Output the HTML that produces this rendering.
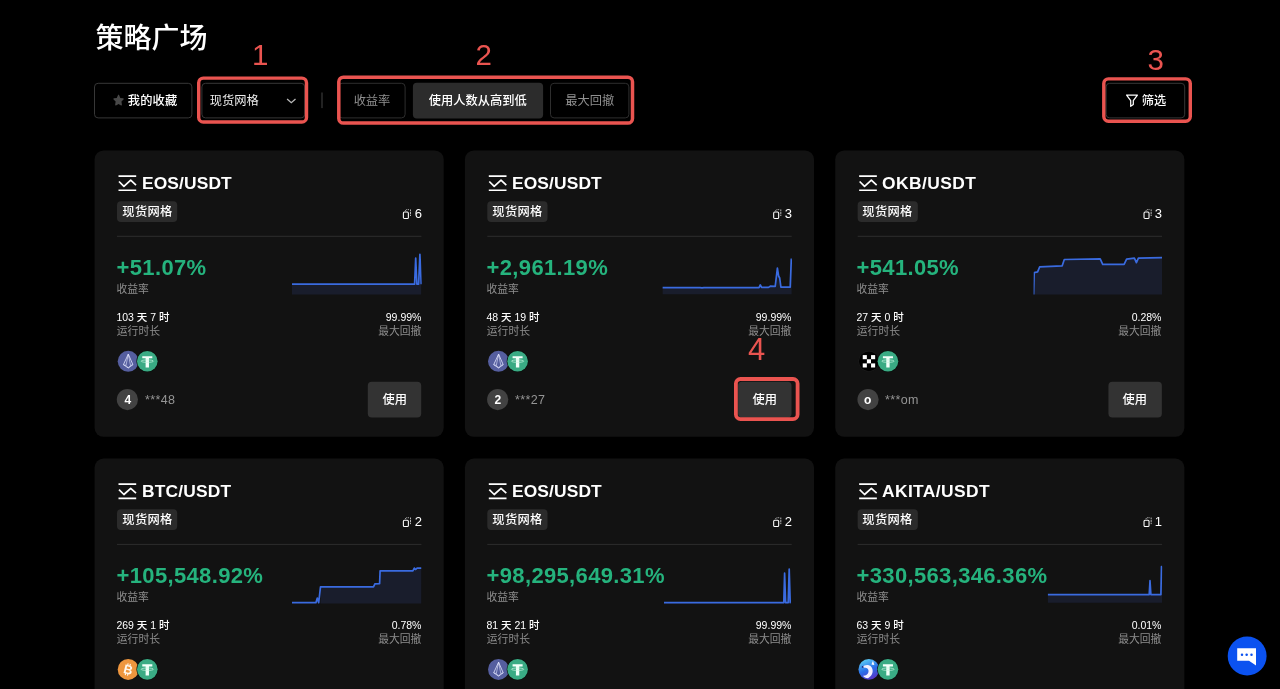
<!DOCTYPE html>
<html lang="zh-CN">
<head>
<meta charset="utf-8">
<title>策略广场</title>
<style>
*{box-sizing:border-box;margin:0;padding:0}
html,body{width:1280px;height:689px;overflow:hidden;background:#000}
body{position:relative;font-family:"Liberation Sans","Noto Sans CJK SC",sans-serif;color:#fff;-webkit-font-smoothing:antialiased}
.abs{position:absolute}
#app{position:absolute;left:0;top:0;width:1280px;height:689px;overflow:hidden;will-change:transform}
h1{position:absolute;left:95.5px;top:18.5px;font-size:28px;line-height:40px;font-weight:500;letter-spacing:0;color:#fff}
.btn{position:absolute;top:83px;height:35px;border:1px solid transparent;font-size:12.25px;line-height:33px;padding-top:1px;font-weight:500;color:#fff;text-align:center;white-space:nowrap}
.btn.gray{color:#8f8f8f;font-weight:400}
.btn.act{}
.sep{display:none}
.card{position:absolute;width:349.1px;height:286.4px}
.card>*{position:absolute}
.art{position:absolute;left:0;top:0;pointer-events:none}
.gi{left:23.8px;top:24.7px;width:18px;height:16.4px}
.pair{left:47.0px;top:22.05px;font-size:17.4px;line-height:22px;font-weight:700;white-space:nowrap}
.tag{left:22.3px;top:51.25px;width:60.3px;height:20.8px;font-size:12.25px;line-height:20.8px;padding-top:1.2px;letter-spacing:0.3px;font-weight:500;text-align:center;white-space:nowrap}
.copies{right:22.1px;top:55.55px;height:16px;font-size:13px;line-height:16px;font-weight:400}
.ci{width:9px;height:10.4px;margin-right:3.6px;position:relative;top:0.3px}
.hr{left:22.3px;top:85.95px;width:304.4px;height:1px;display:none}
.pct{left:21.6px;top:104.55px;font-size:22px;line-height:26px;letter-spacing:0.34px;font-weight:700;color:#25b37d;white-space:nowrap}
.lbl{font-size:10.8px;line-height:14px;color:#8d8d8d;white-space:nowrap}
.val{font-size:10.5px;line-height:14px;color:#fff;font-weight:500;white-space:nowrap}
.l1{left:21.4px;top:131.85px}
.v1{left:21.4px;top:160.05px}
.l2{left:21.8px;top:174.45px}
.v2{right:22.7px;top:160.05px}
.l3{right:22.7px;top:174.45px}
.coin.c1{left:22.7px;top:200.4px;width:21px;height:21px}
.coin.c2{left:41.3px;top:199.5px;width:22.8px;height:22.8px}
.av{left:22.2px;top:238.85px;width:21.2px;height:21.2px;font-size:12px;line-height:21.2px;padding-top:0.8px;font-weight:700;text-align:center}
.nm{left:50.0px;top:241.65px;font-size:12.5px;line-height:16px;letter-spacing:0.35px;color:#959595;white-space:nowrap}
.use{left:273.1px;top:231.85px;width:53.4px;height:35.6px;font-size:12.25px;line-height:35.6px;padding-top:1.2px;font-weight:500;text-align:center}
.rbox{position:absolute;border:3.4px solid #ea5450;border-radius:6px}
.rnum{position:absolute;color:#ea5450;font-size:29.5px;line-height:30px;font-weight:400;font-family:"Liberation Sans",sans-serif}
.chat{position:absolute;left:1227.7px;top:636.5px;width:39px;height:39px}
</style>
</head>
<body>
<div id="app">
<svg class="art" width="1280" height="689" viewBox="0 0 1280 689">
<rect x="94.6" y="150.4" width="349.1" height="286.4" rx="9" fill="#121212"/><rect x="117.0" y="201.25" width="60.2" height="20.75" rx="4" fill="#2b2b2b"/><rect x="117.0" y="235.8" width="304.4" height="1" fill="#2d2d2d"/><circle cx="127.4" cy="399.6" r="10.6" fill="#424242"/><rect x="367.8" y="381.8" width="53.4" height="35.6" rx="4" fill="#333"/>
<rect x="464.9" y="150.4" width="349.1" height="286.4" rx="9" fill="#121212"/><rect x="487.3" y="201.25" width="60.2" height="20.75" rx="4" fill="#2b2b2b"/><rect x="487.3" y="235.8" width="304.4" height="1" fill="#2d2d2d"/><circle cx="497.7" cy="399.6" r="10.6" fill="#424242"/><rect x="738.1" y="381.8" width="53.4" height="35.6" rx="4" fill="#333"/>
<rect x="835.25" y="150.4" width="349.1" height="286.4" rx="9" fill="#121212"/><rect x="857.65" y="201.25" width="60.2" height="20.75" rx="4" fill="#2b2b2b"/><rect x="857.65" y="235.8" width="304.4" height="1" fill="#2d2d2d"/><circle cx="868.05" cy="399.6" r="10.6" fill="#424242"/><rect x="1108.45" y="381.8" width="53.4" height="35.6" rx="4" fill="#333"/>
<rect x="94.6" y="458.5" width="349.1" height="286.4" rx="9" fill="#121212"/><rect x="117.0" y="509.35" width="60.2" height="20.75" rx="4" fill="#2b2b2b"/><rect x="117.0" y="543.9" width="304.4" height="1" fill="#2d2d2d"/><circle cx="127.4" cy="707.7" r="10.6" fill="#424242"/><rect x="367.8" y="689.9" width="53.4" height="35.6" rx="4" fill="#333"/>
<rect x="464.9" y="458.5" width="349.1" height="286.4" rx="9" fill="#121212"/><rect x="487.3" y="509.35" width="60.2" height="20.75" rx="4" fill="#2b2b2b"/><rect x="487.3" y="543.9" width="304.4" height="1" fill="#2d2d2d"/><circle cx="497.7" cy="707.7" r="10.6" fill="#424242"/><rect x="738.1" y="689.9" width="53.4" height="35.6" rx="4" fill="#333"/>
<rect x="835.25" y="458.5" width="349.1" height="286.4" rx="9" fill="#121212"/><rect x="857.65" y="509.35" width="60.2" height="20.75" rx="4" fill="#2b2b2b"/><rect x="857.65" y="543.9" width="304.4" height="1" fill="#2d2d2d"/><circle cx="868.05" cy="707.7" r="10.6" fill="#424242"/><rect x="1108.45" y="689.9" width="53.4" height="35.6" rx="4" fill="#333"/>
<rect x="94.5" y="83.3" width="97.4" height="34.6" rx="3.6" fill="none" stroke="#373737" stroke-width="1"/><rect x="201.9" y="83.3" width="102.8" height="34.6" rx="3.6" fill="none" stroke="#373737" stroke-width="1"/><rect x="338.5" y="83.3" width="66.6" height="34.6" rx="3.6" fill="none" stroke="#2e2e2e" stroke-width="1"/><rect x="412.9" y="82.8" width="130.2" height="35.6" rx="4" fill="#2c2c2c"/><rect x="550.5" y="83.3" width="78.4" height="34.6" rx="3.6" fill="none" stroke="#2e2e2e" stroke-width="1"/><rect x="1106.1" y="83.3" width="78.6" height="34.6" rx="3.6" fill="none" stroke="#373737" stroke-width="1"/><rect x="321.5" y="92.5" width="1" height="15.6" fill="#454545"/></svg>
<h1>策略广场</h1>
<div class="btn" style="left:94px;width:98.5px;text-align:left;padding-left:32.8px;letter-spacing:0.15px">我的收藏</div>
<div class="btn" style="left:201.4px;width:103.8px;text-align:left;padding-left:7.3px;font-weight:400;color:#ececec">现货网格</div>
<div class="sep"></div>
<div class="btn gray" style="left:338px;width:68px">收益率</div>
<div class="btn act" style="left:413px;width:129.5px">使用人数从高到低</div>
<div class="btn gray" style="left:550px;width:79.5px">最大回撤</div>
<div class="btn" style="left:1105.5px;width:79.7px;text-align:left;padding-left:35.3px">筛选</div>
<div class="card" style="left:95px;top:150px">
<div class="pair" style="letter-spacing:0.12px">EOS/USDT</div>
<div class="tag">现货网格</div>
<div class="copies">6</div>
<div class="hr"></div>
<div class="pct p1">+51.07%</div>
<div class="lbl l1">收益率</div>
<div class="val v1">103 天 7 时</div>
<div class="lbl l2">运行时长</div>
<div class="val v2">99.99%</div>
<div class="lbl l3">最大回撤</div>
<div class="av">4</div><div class="nm">***48</div>
<div class="use">使用</div>
</div>
<div class="card" style="left:465px;top:150px">
<div class="pair" style="letter-spacing:0.12px">EOS/USDT</div>
<div class="tag">现货网格</div>
<div class="copies">3</div>
<div class="hr"></div>
<div class="pct p2">+2,961.19%</div>
<div class="lbl l1">收益率</div>
<div class="val v1">48 天 19 时</div>
<div class="lbl l2">运行时长</div>
<div class="val v2">99.99%</div>
<div class="lbl l3">最大回撤</div>
<div class="av">2</div><div class="nm">***27</div>
<div class="use">使用</div>
</div>
<div class="card" style="left:835px;top:150px">
<div class="pair" style="letter-spacing:0.44px">OKB/USDT</div>
<div class="tag">现货网格</div>
<div class="copies">3</div>
<div class="hr"></div>
<div class="pct p3">+541.05%</div>
<div class="lbl l1">收益率</div>
<div class="val v1">27 天 0 时</div>
<div class="lbl l2">运行时长</div>
<div class="val v2">0.28%</div>
<div class="lbl l3">最大回撤</div>
<div class="av">o</div><div class="nm">***om</div>
<div class="use">使用</div>
</div>
<div class="card" style="left:95px;top:458px">
<div class="pair" style="letter-spacing:0.16px">BTC/USDT</div>
<div class="tag">现货网格</div>
<div class="copies">2</div>
<div class="hr"></div>
<div class="pct p4">+105,548.92%</div>
<div class="lbl l1">收益率</div>
<div class="val v1">269 天 1 时</div>
<div class="lbl l2">运行时长</div>
<div class="val v2">0.78%</div>
<div class="lbl l3">最大回撤</div>
<div class="av">7</div><div class="nm">***61</div>
<div class="use">使用</div>
</div>
<div class="card" style="left:465px;top:458px">
<div class="pair" style="letter-spacing:0.12px">EOS/USDT</div>
<div class="tag">现货网格</div>
<div class="copies">2</div>
<div class="hr"></div>
<div class="pct p5">+98,295,649.31%</div>
<div class="lbl l1">收益率</div>
<div class="val v1">81 天 21 时</div>
<div class="lbl l2">运行时长</div>
<div class="val v2">99.99%</div>
<div class="lbl l3">最大回撤</div>
<div class="av">3</div><div class="nm">***15</div>
<div class="use">使用</div>
</div>
<div class="card" style="left:835px;top:458px">
<div class="pair" style="letter-spacing:0.39px">AKITA/USDT</div>
<div class="tag">现货网格</div>
<div class="copies">1</div>
<div class="hr"></div>
<div class="pct p6">+330,563,346.36%</div>
<div class="lbl l1">收益率</div>
<div class="val v1">63 天 9 时</div>
<div class="lbl l2">运行时长</div>
<div class="val v2">0.01%</div>
<div class="lbl l3">最大回撤</div>
<div class="av">a</div><div class="nm">***ke</div>
<div class="use">使用</div>
</div>
<svg class="art" width="1280" height="689" viewBox="0 0 1280 689">
<clipPath id="cc1"><rect x="292" y="0" width="129.7" height="689"/></clipPath><g clip-path="url(#cc1)"><path d="M292,284.2 L414.6,284.2 L415.7,258 L416.9,284.2 L418.6,284.2 L419.9,254.4 L421.2,284.2 L421.2,294.6 L292,294.6 Z" fill="#191d2c"/><path d="M292,284.2 L414.6,284.2 L415.7,258 L416.9,284.2 L418.6,284.2 L419.9,254.4 L421.2,284.2" fill="none" stroke="#3a6be0" stroke-width="1.7" stroke-linejoin="round" stroke-linecap="butt"/></g>
<g transform="translate(118.4 175.1)"><path d="M0.1 1H17.8 M0.1 15.15H17.8" stroke="#fff" stroke-width="1.7" fill="none"/><path d="M0.6 6.4 L5.5 11.3 L12.3 5.1 L17.6 10" stroke="#fff" stroke-width="1.7" fill="none" stroke-linejoin="round"/></g>
<g transform="translate(402.8 209.15) scale(0.97)"><rect x="0.6" y="3" width="5.15" height="6.6" rx="1.1" fill="none" stroke="#fff" stroke-width="1.1"/><path d="M2.6 1.7L3.1 0.8 M3.6 0.5H4.5 M5.2 0.5H6.3 M7.95 0.3V1.9 M7.95 2.6V5.2 M7.95 5.8V7.1" fill="none" stroke="#dcdcdc" stroke-width="0.85"/></g>
<g transform="translate(117.7 350.8)"><circle cx="10.5" cy="10.5" r="10.5" fill="#555e9f"/><path d="M10.6 3.3 L5.7 13.9 L10.6 17.2 L15.2 13.9 Z" fill="none" stroke="#e4e7ff" stroke-width="0.8" stroke-linejoin="round"/><path d="M10.6 3.3 L8.3 14.6 L10.6 17.2 L12.8 14.6 Z M5.7 13.9 L8.3 14.6 M15.2 13.9 L12.8 14.6" fill="none" stroke="#e4e7ff" stroke-width="0.6" stroke-linejoin="round"/></g>
<g transform="translate(136.45 350.4) scale(0.986)"><circle cx="11" cy="11" r="11" fill="#08100c"/><circle cx="11" cy="11" r="10.45" fill="#3aab84"/><path d="M5.9 5.9h10.2v2.1h-3.4v9.3h-3.4v-9.3h-3.4z" fill="#f2fff9"/><ellipse cx="11" cy="10.9" rx="6.3" ry="1.25" fill="none" stroke="#c9f5e2" stroke-width="0.7"/></g>
<clipPath id="cc2"><rect x="662.4" y="0" width="129.7" height="689"/></clipPath><g clip-path="url(#cc2)"><path d="M662.4,287.6 L700,287.6 L702,287.9 L704,287.6 L759,287.6 L760.3,284.9 L761.6,287.4 L768.5,287.4 L770.3,286.2 L775.2,286.4 L777.4,268.1 L778.6,276 L779.7,278 L780.9,287.2 L790.2,287.2 L791.3,259.1 L791.6,259.1 L791.6,294.3 L662.4,294.3 Z" fill="#191d2c"/><path d="M662.4,287.6 L700,287.6 L702,287.9 L704,287.6 L759,287.6 L760.3,284.9 L761.6,287.4 L768.5,287.4 L770.3,286.2 L775.2,286.4 L777.4,268.1 L778.6,276 L779.7,278 L780.9,287.2 L790.2,287.2 L791.3,259.1 L791.6,259.1" fill="none" stroke="#3a6be0" stroke-width="1.7" stroke-linejoin="round" stroke-linecap="butt"/></g>
<g transform="translate(488.7 175.1)"><path d="M0.1 1H17.8 M0.1 15.15H17.8" stroke="#fff" stroke-width="1.7" fill="none"/><path d="M0.6 6.4 L5.5 11.3 L12.3 5.1 L17.6 10" stroke="#fff" stroke-width="1.7" fill="none" stroke-linejoin="round"/></g>
<g transform="translate(773.1 209.15) scale(0.97)"><rect x="0.6" y="3" width="5.15" height="6.6" rx="1.1" fill="none" stroke="#fff" stroke-width="1.1"/><path d="M2.6 1.7L3.1 0.8 M3.6 0.5H4.5 M5.2 0.5H6.3 M7.95 0.3V1.9 M7.95 2.6V5.2 M7.95 5.8V7.1" fill="none" stroke="#dcdcdc" stroke-width="0.85"/></g>
<g transform="translate(488.0 350.8)"><circle cx="10.5" cy="10.5" r="10.5" fill="#555e9f"/><path d="M10.6 3.3 L5.7 13.9 L10.6 17.2 L15.2 13.9 Z" fill="none" stroke="#e4e7ff" stroke-width="0.8" stroke-linejoin="round"/><path d="M10.6 3.3 L8.3 14.6 L10.6 17.2 L12.8 14.6 Z M5.7 13.9 L8.3 14.6 M15.2 13.9 L12.8 14.6" fill="none" stroke="#e4e7ff" stroke-width="0.6" stroke-linejoin="round"/></g>
<g transform="translate(506.75 350.4) scale(0.986)"><circle cx="11" cy="11" r="11" fill="#08100c"/><circle cx="11" cy="11" r="10.45" fill="#3aab84"/><path d="M5.9 5.9h10.2v2.1h-3.4v9.3h-3.4v-9.3h-3.4z" fill="#f2fff9"/><ellipse cx="11" cy="10.9" rx="6.3" ry="1.25" fill="none" stroke="#c9f5e2" stroke-width="0.7"/></g>
<clipPath id="cc3"><rect x="1033.6" y="0" width="128.9" height="689"/></clipPath><g clip-path="url(#cc3)"><path d="M1033.6,294.6 L1034.2,272.6 L1037.6,271.8 L1039.7,266.8 L1062.2,265.8 L1064.3,259.5 L1100.2,258.8 L1102.7,264.3 L1124.1,264.3 L1126.6,259.1 L1134.4,258.1 L1136.4,262.6 L1138.4,258.1 L1162,257.7 L1162,294.6 L1033.6,294.6 Z" fill="#191d2c"/><path d="M1033.6,294.6 L1034.2,272.6 L1037.6,271.8 L1039.7,266.8 L1062.2,265.8 L1064.3,259.5 L1100.2,258.8 L1102.7,264.3 L1124.1,264.3 L1126.6,259.1 L1134.4,258.1 L1136.4,262.6 L1138.4,258.1 L1162,257.7" fill="none" stroke="#3a6be0" stroke-width="1.7" stroke-linejoin="round" stroke-linecap="butt"/></g>
<g transform="translate(859.05 175.1)"><path d="M0.1 1H17.8 M0.1 15.15H17.8" stroke="#fff" stroke-width="1.7" fill="none"/><path d="M0.6 6.4 L5.5 11.3 L12.3 5.1 L17.6 10" stroke="#fff" stroke-width="1.7" fill="none" stroke-linejoin="round"/></g>
<g transform="translate(1143.45 209.15) scale(0.97)"><rect x="0.6" y="3" width="5.15" height="6.6" rx="1.1" fill="none" stroke="#fff" stroke-width="1.1"/><path d="M2.6 1.7L3.1 0.8 M3.6 0.5H4.5 M5.2 0.5H6.3 M7.95 0.3V1.9 M7.95 2.6V5.2 M7.95 5.8V7.1" fill="none" stroke="#dcdcdc" stroke-width="0.85"/></g>
<g transform="translate(858.35 350.8)"><circle cx="10.5" cy="10.5" r="10.5" fill="#1c1c1c"/><circle cx="10.5" cy="10.5" r="9.9" fill="#000"/><g fill="#fff"><rect x="4.4" y="4.3" width="4.1" height="4.1"/><rect x="12.7" y="4.3" width="4.1" height="4.1"/><rect x="8.55" y="8.45" width="4.1" height="4.1"/><rect x="4.4" y="12.6" width="4.1" height="4.1"/><rect x="12.7" y="12.6" width="4.1" height="4.1"/></g></g>
<g transform="translate(877.1 350.4) scale(0.986)"><circle cx="11" cy="11" r="11" fill="#08100c"/><circle cx="11" cy="11" r="10.45" fill="#3aab84"/><path d="M5.9 5.9h10.2v2.1h-3.4v9.3h-3.4v-9.3h-3.4z" fill="#f2fff9"/><ellipse cx="11" cy="10.9" rx="6.3" ry="1.25" fill="none" stroke="#c9f5e2" stroke-width="0.7"/></g>
<clipPath id="cc4"><rect x="292" y="0" width="129.8" height="689"/></clipPath><g clip-path="url(#cc4)"><path d="M320.5,586.9 L373.5,586.9 L374.9,583.9 L379.6,583.6 L380.1,570.9 L412.9,570.9 L414.3,568.1 L415.7,569.5 L417.1,568.1 L421.3,568.1 L421.3,603.4 L320.5,603.4 Z" fill="#191d2c"/><path d="M292,602.7 L315.9,602.7 L317.3,598 L318.7,602.7 L320.5,586.9 L373.5,586.9 L374.9,583.9 L379.6,583.6 L380.1,570.9 L412.9,570.9 L414.3,568.1 L415.7,569.5 L417.1,568.1 L421.3,568.1" fill="none" stroke="#3a6be0" stroke-width="1.7" stroke-linejoin="round" stroke-linecap="butt"/></g>
<g transform="translate(118.4 483.2)"><path d="M0.1 1H17.8 M0.1 15.15H17.8" stroke="#fff" stroke-width="1.7" fill="none"/><path d="M0.6 6.4 L5.5 11.3 L12.3 5.1 L17.6 10" stroke="#fff" stroke-width="1.7" fill="none" stroke-linejoin="round"/></g>
<g transform="translate(402.8 517.25) scale(0.97)"><rect x="0.6" y="3" width="5.15" height="6.6" rx="1.1" fill="none" stroke="#fff" stroke-width="1.1"/><path d="M2.6 1.7L3.1 0.8 M3.6 0.5H4.5 M5.2 0.5H6.3 M7.95 0.3V1.9 M7.95 2.6V5.2 M7.95 5.8V7.1" fill="none" stroke="#dcdcdc" stroke-width="0.85"/></g>
<g transform="translate(117.7 658.9)"><circle cx="10.5" cy="10.5" r="10.5" fill="#ee963e"/><g transform="rotate(14 10.5 10.5)"><text x="10.6" y="15.1" text-anchor="middle" font-family="Liberation Sans, sans-serif" font-weight="700" font-size="12.5" fill="#fff8ee">B</text><path d="M9 4.6v2.2 M11.3 4.6v2.2 M9 14.6v2.2 M11.3 14.6v2.2" stroke="#fff8ee" stroke-width="1.1"/></g></g>
<g transform="translate(136.45 658.5) scale(0.986)"><circle cx="11" cy="11" r="11" fill="#08100c"/><circle cx="11" cy="11" r="10.45" fill="#3aab84"/><path d="M5.9 5.9h10.2v2.1h-3.4v9.3h-3.4v-9.3h-3.4z" fill="#f2fff9"/><ellipse cx="11" cy="10.9" rx="6.3" ry="1.25" fill="none" stroke="#c9f5e2" stroke-width="0.7"/></g>
<clipPath id="cc5"><rect x="664" y="0" width="127.1" height="689"/></clipPath><g clip-path="url(#cc5)"><path d="M664,602.7 L783.8,602.7 L784.6,573.2 L785.6,602.7 L788.2,602.7 L789.2,569 L790.2,602.7 L790.6,602.7 L790.6,603.4 L664,603.4 Z" fill="#191d2c"/><path d="M664,602.7 L783.8,602.7 L784.6,573.2 L785.6,602.7 L788.2,602.7 L789.2,569 L790.2,602.7 L790.6,602.7" fill="none" stroke="#3a6be0" stroke-width="1.7" stroke-linejoin="round" stroke-linecap="butt"/></g>
<g transform="translate(488.7 483.2)"><path d="M0.1 1H17.8 M0.1 15.15H17.8" stroke="#fff" stroke-width="1.7" fill="none"/><path d="M0.6 6.4 L5.5 11.3 L12.3 5.1 L17.6 10" stroke="#fff" stroke-width="1.7" fill="none" stroke-linejoin="round"/></g>
<g transform="translate(773.1 517.25) scale(0.97)"><rect x="0.6" y="3" width="5.15" height="6.6" rx="1.1" fill="none" stroke="#fff" stroke-width="1.1"/><path d="M2.6 1.7L3.1 0.8 M3.6 0.5H4.5 M5.2 0.5H6.3 M7.95 0.3V1.9 M7.95 2.6V5.2 M7.95 5.8V7.1" fill="none" stroke="#dcdcdc" stroke-width="0.85"/></g>
<g transform="translate(488.0 658.9)"><circle cx="10.5" cy="10.5" r="10.5" fill="#555e9f"/><path d="M10.6 3.3 L5.7 13.9 L10.6 17.2 L15.2 13.9 Z" fill="none" stroke="#e4e7ff" stroke-width="0.8" stroke-linejoin="round"/><path d="M10.6 3.3 L8.3 14.6 L10.6 17.2 L12.8 14.6 Z M5.7 13.9 L8.3 14.6 M15.2 13.9 L12.8 14.6" fill="none" stroke="#e4e7ff" stroke-width="0.6" stroke-linejoin="round"/></g>
<g transform="translate(506.75 658.5) scale(0.986)"><circle cx="11" cy="11" r="11" fill="#08100c"/><circle cx="11" cy="11" r="10.45" fill="#3aab84"/><path d="M5.9 5.9h10.2v2.1h-3.4v9.3h-3.4v-9.3h-3.4z" fill="#f2fff9"/><ellipse cx="11" cy="10.9" rx="6.3" ry="1.25" fill="none" stroke="#c9f5e2" stroke-width="0.7"/></g>
<clipPath id="cc6"><rect x="1047.7" y="0" width="114.8" height="689"/></clipPath><g clip-path="url(#cc6)"><path d="M1047.7,594.7 L1149.2,594.7 L1150,580.7 L1150.9,594.7 L1160.9,594.7 L1161.5,566.6 L1162,566.6 L1162,602.7 L1047.7,602.7 Z" fill="#191d2c"/><path d="M1047.7,594.7 L1149.2,594.7 L1150,580.7 L1150.9,594.7 L1160.9,594.7 L1161.5,566.6 L1162,566.6" fill="none" stroke="#3a6be0" stroke-width="1.7" stroke-linejoin="round" stroke-linecap="butt"/></g>
<g transform="translate(859.05 483.2)"><path d="M0.1 1H17.8 M0.1 15.15H17.8" stroke="#fff" stroke-width="1.7" fill="none"/><path d="M0.6 6.4 L5.5 11.3 L12.3 5.1 L17.6 10" stroke="#fff" stroke-width="1.7" fill="none" stroke-linejoin="round"/></g>
<g transform="translate(1143.45 517.25) scale(0.97)"><rect x="0.6" y="3" width="5.15" height="6.6" rx="1.1" fill="none" stroke="#fff" stroke-width="1.1"/><path d="M2.6 1.7L3.1 0.8 M3.6 0.5H4.5 M5.2 0.5H6.3 M7.95 0.3V1.9 M7.95 2.6V5.2 M7.95 5.8V7.1" fill="none" stroke="#dcdcdc" stroke-width="0.85"/></g>
<g transform="translate(858.35 658.9)"><defs><linearGradient id="ak" x1="0.3" y1="0" x2="0.7" y2="1"><stop offset="0" stop-color="#5fd0f5"/><stop offset="0.5" stop-color="#2a6fe8"/><stop offset="1" stop-color="#5b2fc4"/></linearGradient></defs><circle cx="10.5" cy="10.5" r="10.4" fill="url(#ak)"/><path d="M4.2 8.2 C6 5.6 10.5 5.3 12.6 7.6 C15.6 10.8 14.8 16.6 9.6 19.4 C7.4 19.2 5.6 18.2 4.6 16.8 C8.6 17.2 11.2 13.6 9.8 10.6 C8.8 8.6 6 9.4 4.2 8.2 Z" fill="#f4f0ff"/><path d="M13.1 5.6 L14.6 1.9 L16 6.1 Z" fill="#fff"/><circle cx="4.3" cy="8" r="0.9" fill="#1a237e"/></g>
<g transform="translate(877.1 658.5) scale(0.986)"><circle cx="11" cy="11" r="11" fill="#08100c"/><circle cx="11" cy="11" r="10.45" fill="#3aab84"/><path d="M5.9 5.9h10.2v2.1h-3.4v9.3h-3.4v-9.3h-3.4z" fill="#f2fff9"/><ellipse cx="11" cy="10.9" rx="6.3" ry="1.25" fill="none" stroke="#c9f5e2" stroke-width="0.7"/></g>
<circle cx="1247.15" cy="656.05" r="19.45" fill="#0b52f0"/><path d="M1237.2 648.3H1256V665.5L1249 660.8H1237.2Z" fill="#fff"/><circle cx="1242" cy="654.8" r="1.25" fill="#0b52f0"/><circle cx="1246.65" cy="654.8" r="1.25" fill="#0b52f0"/><circle cx="1251.5" cy="654.8" r="1.25" fill="#0b52f0"/>
<path transform="translate(112.9 94.4) scale(0.4708 0.5087)" d="M12 0.6c0.5 0 0.9 0.3 1.1 0.7l2.7 5.6 6.1 0.9c1 0.15 1.4 1.4 0.7 2.1l-4.4 4.3 1 6.1c0.17 1-0.9 1.8-1.8 1.3L12 18.7l-5.4 2.9c-0.9 0.5-2-0.3-1.8-1.3l1-6.1-4.4-4.3c-0.7-0.7-0.3-1.95 0.7-2.1l6.1-0.9 2.7-5.6c0.2-0.4 0.6-0.7 1.1-0.7z" fill="#484848"/><path d="M287.1 98.9L291.3 102.7L295.5 98.9" fill="none" stroke="#b8b8b8" stroke-width="1.3"/><path d="M1126.6 95.1H1137.4L1133.3 100.6V104.6L1130.7 106.3V100.6Z" fill="none" stroke="#fff" stroke-width="1.25" stroke-linejoin="round"/>
<g fill="none" stroke="#ea5450"><rect x="198.7" y="78.1" width="107.8" height="43.9" rx="4.6" stroke-width="3.4"/><rect x="338.8" y="77.15" width="293.7" height="45.95" rx="4.6" stroke-width="3.5"/><rect x="1103.8" y="78.9" width="86.5" height="42.3" rx="4.6" stroke-width="3.4"/><rect x="735.9" y="379" width="61.7" height="40.1" rx="4.6" stroke-width="3.8"/></g>
</svg>
<div class="rnum" style="left:252px;top:39.5px">1</div>
<div class="rnum" style="left:475.5px;top:40.3px">2</div>
<div class="rnum" style="left:1147.5px;top:44.5px">3</div>
<div class="rnum" style="left:748px;top:334.8px;font-size:31px">4</div>

</div>
</body>
</html>
